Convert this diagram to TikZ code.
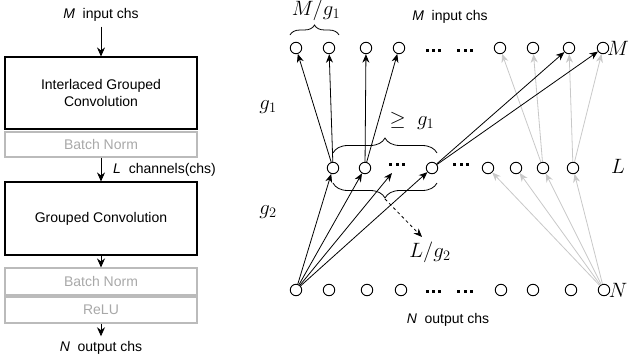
\documentclass[tikz,border=0pt]{standalone}
\usepackage[no-math]{fontspec}
\setmainfont{Liberation Sans}
\usetikzlibrary{arrows.meta,decorations.pathreplacing}
\definecolor{lgray}{HTML}{C8C8C8}
\definecolor{bgray}{HTML}{BBBBBB}
\definecolor{tgray}{HTML}{A8A8A8}
\newcommand{\sqdots}{\rule{3pt}{3pt}\hspace{3.2pt}\rule{3pt}{3pt}\hspace{3.2pt}\rule{3pt}{3pt}}
\begin{document}
\begin{tikzpicture}[x=1pt,y=-1pt,
  txt/.style={font=\fontsize{14}{16}\selectfont,inner sep=0pt},
  mth/.style={font=\fontsize{19.5}{22}\selectfont,inner sep=0pt},
  blk/.style={draw,line width=1.1pt,minimum width=192pt,inner sep=0pt,align=center,font=\fontsize{14}{17}\selectfont},
  gblk/.style={draw=bgray,line width=1.1pt,text=tgray,minimum width=192pt,inner sep=0pt,font=\fontsize{14}{16}\selectfont},
  arr/.style={-{Stealth[length=9pt,width=8pt]},line width=0.9pt},
  larr/.style={-{Stealth[length=8.5pt,width=7pt]},line width=0.8pt},
  garr/.style={larr,draw=lgray},
  dot/.style={circle,draw,line width=0.9pt,minimum size=11.5pt,inner sep=0pt},
  dts/.style={inner sep=0pt},
  brc/.style={decorate,line width=0.8pt}
]
\path[use as bounding box] (0,0) rectangle (633,362);
% ---------- left panel ----------
\node[txt] (min) at (101,15) {\textit{M}\ \ input chs};
\node[blk,minimum height=72pt] (b1) at (101,93) {Interlaced Grouped\\Convolution};
\node[gblk,minimum height=25pt] (bn1) at (101,144.5) {Batch Norm};
\node[blk,minimum height=73pt] (b2) at (101,218.5) {Grouped Convolution};
\node[gblk,minimum height=27pt] (bn2) at (101,281.5) {Batch Norm};
\node[gblk,minimum height=26pt] (relu) at (101,310) {ReLU};
\node[txt] (nout) at (101,348) {\textit{N}\ \ output chs};
\node[txt,anchor=west] (lch) at (113,170) {\textit{L}\ \ channels(chs)};
\draw[arr] ([yshift=-5pt]min.south) -- (b1.north);
\draw[arr] (bn1.south) -- (b2.north);
\draw[arr] (b2.south) -- (bn2.north);
\draw[arr] (relu.south) -- ([yshift=5pt]nout.north);
% ---------- right panel ----------
\foreach \i/\x in {1/296,2/329,3/366,4/399,5/500,6/533,7/569,8/603}
  \node[dot] (t\i) at (\x,48) {};
\foreach \i/\x in {1/296,2/329,3/367,4/401,5/501,6/533,7/571,8/604}
  \node[dot] (b\i) at (\x,290) {};
\foreach \i/\x in {1/333,2/365,3/432,4/488,5/516,6/543,7/573}
  \node[dot] (m\i) at (\x,168) {};
\node[dts] (td1) at (433.5,50) {\sqdots};
\node[dts] (td2) at (465,50) {\sqdots};
\node[dts] (md1) at (397,164) {\sqdots};
\node[dts] (md2) at (461,164) {\sqdots};
\node[dts] (bd1) at (433.5,291) {\sqdots};
\node[dts] (bd2) at (465,291) {\sqdots};
\coordinate (dt) at (392,173);
% gray arrows
\draw[garr] (m6) -- (t5);
\draw[garr] (m6) -- (t6);
\draw[garr] (m7) -- (t7);
\draw[garr] (m7) -- (t8);
\foreach \j in {4,5,6,7} \draw[garr] (b8) -- (m\j);
% black arrows
\draw[larr] (m1) -- (t1);
\draw[larr] (m1) -- (t2);
\draw[larr] (m2) -- (t3);
\draw[larr] (m2) -- (t4);
\draw[larr] (m3) -- (t7);
\draw[larr] (m3) -- (t8);
\draw[larr] (b1) -- (m1);
\draw[larr] (b1) -- (m2);
\draw[larr] (b1) -- (dt);
\draw[larr] (b1) -- (m3);
% braces
\draw[brc,decoration={brace,amplitude=10pt}] (290,35) -- (339,35);
\draw[brc,decoration={brace,amplitude=15pt}] (333,153) -- (437,153);
\draw[brc,decoration={brace,amplitude=15pt}] (437,183) -- (333,183);
\coordinate (bt) at (385,199);
\coordinate (la) at (422,237);
\draw[larr,dashed] (bt) -- (la);
% labels
\node[mth] (lmg) at (316,10) {$M/g_1$};
\node[mth] (lg1) at (268,107) {$g_1$};
\node[mth] (lg2) at (268,212) {$g_2$};
\node[mth] (lge) at (412,121) {$\geq\ g_1$};
\node[mth] (llg) at (430,252) {$L/g_2$};
\node[mth] (lM) at (618,48) {$M$};
\node[mth] (lL) at (618,166) {$L$};
\node[mth] (lN) at (618,290) {$N$};
\node[txt] (rin) at (450,17) {\textit{M}\ \ input chs};
\node[txt] (rout) at (448,320) {\textit{N}\ \ output chs};
\end{tikzpicture}
\end{document}
